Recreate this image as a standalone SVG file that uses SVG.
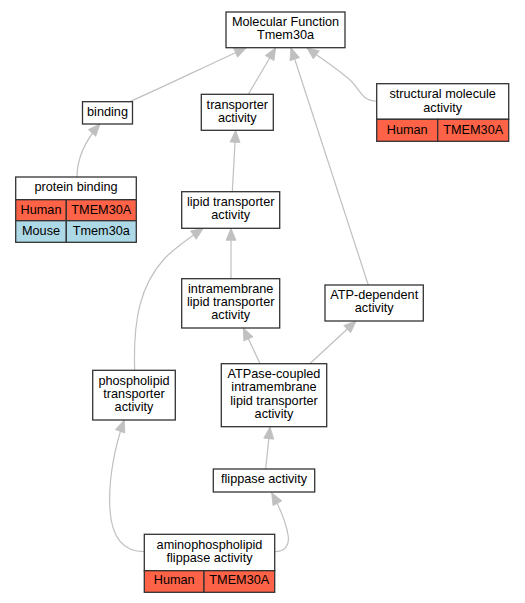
<svg xmlns="http://www.w3.org/2000/svg" width="525" height="603" viewBox="0 0 525 603">
<style>
.n{fill:#ffffff;stroke:#333333;stroke-width:1.3}
.h{fill:#ff6347;stroke:#333333;stroke-width:1.3}
.m{fill:#add8e6;stroke:#333333;stroke-width:1.3}
text{font-family:"Liberation Sans",Arial,sans-serif;font-size:12.7px;fill:#000000;text-anchor:middle}
.e{fill:none;stroke:#c0c0c0;stroke-width:1.2}
</style>
<defs>
<marker id="ar" markerUnits="userSpaceOnUse" markerWidth="14" markerHeight="12" refX="12" refY="5.5" orient="auto" overflow="visible">
<path d="M0,0.5 L12,5.5 L0,10.5 z" fill="#c0c0c0" stroke="#c0c0c0" stroke-width="0.8" stroke-linejoin="miter"/>
</marker>
</defs>
<rect width="525" height="603" fill="#ffffff"/>
<g id="edges">
<path class="e" marker-end="url(#ar)" d="M130,101.5 C170,84 210,64 246.5,47.7"/>
<path class="e" marker-end="url(#ar)" d="M248.3,94.3 L275.7,47.7"/>
<path class="e" marker-end="url(#ar)" d="M368.3,285 L291,47.7"/>
<path class="e" marker-end="url(#ar)" d="M376.7,101 C362,101 360,90 352,82 C342,72 326,62 306.7,47.7"/>
<path class="e" marker-end="url(#ar)" d="M77,177 C77,160 83,143 100,124"/>
<path class="e" marker-end="url(#ar)" d="M232.3,191.7 L235.7,130.3"/>
<path class="e" marker-end="url(#ar)" d="M231,278.7 L231,228.3"/>
<path class="e" marker-end="url(#ar)" d="M134.7,370.3 C133,320 140,285 165,258 C178,245 192,236 203.3,228.3"/>
<path class="e" marker-end="url(#ar)" d="M260,363.5 L243.3,328"/>
<path class="e" marker-end="url(#ar)" d="M310,363.5 L356,321"/>
<path class="e" marker-end="url(#ar)" d="M265.7,469 L270,426.7"/>
<path class="e" marker-end="url(#ar)" d="M144.3,551.7 C125,551.7 112,540 110,510 C108,480 115,445 124.3,420"/>
<path class="e" marker-end="url(#ar)" d="M274.7,551.7 C285,551.7 290,545 288,535 C286,522 280,508 271.7,492.7"/>
</g>
<g id="mf">
<rect class="n" x="226" y="12" width="119" height="35.7"/>
<text x="285.5" y="26">Molecular Function</text>
<text x="285.5" y="39">Tmem30a</text>
</g>
<g id="binding">
<rect class="n" x="82.5" y="101.7" width="50" height="22.3"/>
<text x="107.5" y="115.5">binding</text>
</g>
<g id="transporter">
<rect class="n" x="201.3" y="94.3" width="72" height="36"/>
<text x="237.3" y="109.3">transporter</text>
<text x="237.3" y="122">activity</text>
</g>
<g id="structural">
<rect class="n" x="376.7" y="83.7" width="132" height="35.6"/>
<text x="442.7" y="98.3">structural molecule</text>
<text x="442.7" y="111.6">activity</text>
<rect class="h" x="376.7" y="119.3" width="61" height="22"/>
<rect class="h" x="437.7" y="119.3" width="71" height="22"/>
<text x="407.2" y="133.5">Human</text>
<text x="473.2" y="133.5">TMEM30A</text>
</g>
<g id="proteinbinding">
<rect class="n" x="15.7" y="177" width="120.6" height="22.7"/>
<text x="76" y="190.8">protein binding</text>
<rect class="h" x="15.7" y="199.7" width="50.6" height="21"/>
<rect class="h" x="66.3" y="199.7" width="70" height="21"/>
<text x="41" y="213.5">Human</text>
<text x="101.3" y="213.5">TMEM30A</text>
<rect class="m" x="15.7" y="220.7" width="50.6" height="21.6"/>
<rect class="m" x="66.3" y="220.7" width="70" height="21.6"/>
<text x="41" y="235">Mouse</text>
<text x="101.3" y="235">Tmem30a</text>
</g>
<g id="lipid">
<rect class="n" x="181.7" y="191.7" width="98" height="36.6"/>
<text x="230.7" y="206">lipid transporter</text>
<text x="230.7" y="218.8">activity</text>
</g>
<g id="intramembrane">
<rect class="n" x="181.7" y="278.7" width="98" height="49.3"/>
<text x="230.7" y="293">intramembrane</text>
<text x="230.7" y="306">lipid transporter</text>
<text x="230.7" y="319">activity</text>
</g>
<g id="atpdep">
<rect class="n" x="325" y="285" width="98.3" height="36"/>
<text x="374.2" y="298.6">ATP-dependent</text>
<text x="374.2" y="312.3">activity</text>
</g>
<g id="phospholipid">
<rect class="n" x="92.7" y="370.3" width="82.6" height="49.7"/>
<text x="134" y="385">phospholipid</text>
<text x="134" y="398">transporter</text>
<text x="134" y="411">activity</text>
</g>
<g id="atpase">
<rect class="n" x="221.3" y="363.7" width="105.4" height="63"/>
<text x="274" y="378">ATPase-coupled</text>
<text x="274" y="391">intramembrane</text>
<text x="274" y="404.5">lipid transporter</text>
<text x="274" y="418">activity</text>
</g>
<g id="flippase">
<rect class="n" x="213.3" y="469" width="101.4" height="23"/>
<text x="264" y="483">flippase activity</text>
</g>
<g id="amino">
<rect class="n" x="144.3" y="534.3" width="130.4" height="36.4"/>
<text x="209.5" y="549">aminophospholipid</text>
<text x="209.5" y="562">flippase activity</text>
<rect class="h" x="144.3" y="570.7" width="59.7" height="21.6"/>
<rect class="h" x="204" y="570.7" width="70.7" height="21.6"/>
<text x="174.2" y="584.3">Human</text>
<text x="239.3" y="584.3">TMEM30A</text>
</g>
</svg>
